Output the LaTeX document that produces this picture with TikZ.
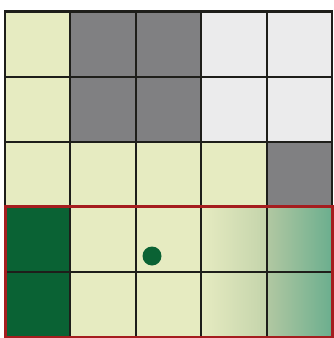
\documentclass[tikz,border=0pt]{standalone}
\usetikzlibrary{calc}
\definecolor{ly}{HTML}{E6EBC1}
\definecolor{dg}{HTML}{808082}
\definecolor{lg}{HTML}{EBEBEC}
\definecolor{gr}{HTML}{0A6234}
\definecolor{rd}{HTML}{A51D1F}
\definecolor{gmid}{HTML}{C4D4AB}
\definecolor{gmid2}{HTML}{B2C8A2}
\definecolor{gend}{HTML}{6BAE8E}
\definecolor{ln}{HTML}{1E1E1A}
\tikzset{gridline/.style={draw=ln,line width=2pt},
  outer/.style={draw=ln,line width=2.6pt},
  redbox/.style={draw=rd,line width=3pt}}
\begin{document}
\begin{tikzpicture}[x=1pt,y=-1pt]
\useasboundingbox (0,0) rectangle (334,338);
\fill[white] (0,0) rectangle (334,338);
\def\xa{5}\def\cw{65.4}\def\ya{11.5}\def\ch{65.1}
% cell fills: row r (0..4), col c (0..4)
\newcommand{\cellfill}[3]{\fill[#3] ({\xa+#2*\cw},{\ya+#1*\ch}) rectangle ({\xa+(#2+1)*\cw},{\ya+(#1+1)*\ch});}
\foreach \r in {0,...,4}{\foreach \c in {0,...,4}{\cellfill{\r}{\c}{ly}}}
\cellfill{0}{1}{dg}\cellfill{0}{2}{dg}\cellfill{1}{1}{dg}\cellfill{1}{2}{dg}
\cellfill{0}{3}{lg}\cellfill{0}{4}{lg}\cellfill{1}{3}{lg}\cellfill{1}{4}{lg}
\cellfill{2}{4}{dg}
\cellfill{3}{0}{gr}\cellfill{4}{0}{gr}
% gradient
\shade[left color=ly,right color=gmid] ({\xa+3*\cw},{\ya+3*\ch}) rectangle ({\xa+4*\cw},{\ya+5*\ch});
\shade[left color=gmid2,right color=gend] ({\xa+4*\cw},{\ya+3*\ch}) rectangle ({\xa+5*\cw},{\ya+5*\ch});
% grid lines
\foreach \c in {1,...,4}{\draw[gridline] ({\xa+\c*\cw},\ya) -- ({\xa+\c*\cw},{\ya+5*\ch});}
\foreach \r in {1,2,4}{\draw[gridline] (\xa,{\ya+\r*\ch}) -- ({\xa+5*\cw},{\ya+\r*\ch});}
\draw[outer] (\xa,{\ya+3*\ch}) -- (\xa,\ya) -- ({\xa+5*\cw},\ya) -- ({\xa+5*\cw},{\ya+3*\ch});
\draw[redbox] (\xa,{\ya+3*\ch}) rectangle ({\xa+5*\cw},{\ya+5*\ch});
% dot
\fill[gr] (152,256) circle (9.5);
\end{tikzpicture}
\end{document}
